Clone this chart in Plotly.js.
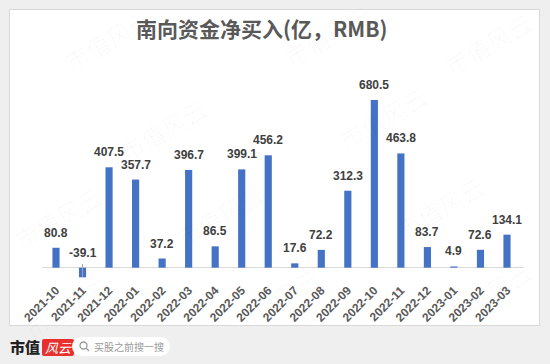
<!DOCTYPE html>
<html><head><meta charset="utf-8">
<script src="https://cdn.plot.ly/plotly-3.0.1.min.js"></script>
<style>
html,body{margin:0;padding:0;}
body{width:550px;height:364px;background:#efefef;position:relative;overflow:hidden;font-family:"Noto Sans CJK SC",sans-serif;}
#panel{position:absolute;left:9px;top:9px;width:531px;height:317px;background:#fff;border:1px solid #d9d9d9;box-sizing:border-box;}
#chart{position:absolute;left:0;top:0;width:550px;height:364px;}
.wm{position:absolute;font-family:"Noto Sans CJK SC",serif;font-weight:300;font-size:24px;color:rgba(0,0,0,0.035);transform:rotate(-30deg);white-space:nowrap;pointer-events:none;}
#logo{position:absolute;left:10px;top:336px;font-family:"Noto Sans CJK SC";font-weight:900;font-size:15px;color:#222;}
#logo span.r{display:inline-block;background:#e8312f;color:#fff;font-style:italic;font-weight:400;font-size:13px;padding:0 3px;margin-left:2px;border-radius:2px;line-height:17px;}
#search{position:absolute;left:72px;top:337px;width:98px;height:19px;background:#fff;border-radius:10px;font-size:10px;color:#999;line-height:19px;padding-left:22px;box-sizing:border-box;}
#search svg{position:absolute;left:7px;top:4px;}
</style></head>
<body>
<div id="panel"></div>
<div id="chart"></div>
<div class="wm" style="left:60px;top:22px;">市值风云</div>
<div class="wm" style="left:280px;top:18px;">市值风云</div>
<div class="wm" style="left:440px;top:26px;">市值风云</div>
<div class="wm" style="left:115px;top:112px;">市值风云</div>
<div class="wm" style="left:335px;top:100px;">市值风云</div>
<div class="wm" style="left:10px;top:200px;">市值风云</div>
<div class="wm" style="left:172px;top:198px;">市值风云</div>
<div class="wm" style="left:392px;top:190px;">市值风云</div>
<div class="wm" style="left:20px;top:290px;">市值风云</div>
<div class="wm" style="left:228px;top:282px;">市值风云</div>
<div class="wm" style="left:440px;top:275px;">市值风云</div>
<div id="logo">市值<span class="r">风云</span></div>
<div id="search"><svg width="11" height="11" viewBox="0 0 11 11"><circle cx="4.5" cy="4.5" r="3.5" stroke="#999" stroke-width="1.3" fill="none"/><line x1="7" y1="7" x2="10" y2="10" stroke="#999" stroke-width="1.3"/></svg>买股之前搜一搜</div>
<script>
const months = ["2021-10","2021-11","2021-12","2022-01","2022-02","2022-03","2022-04","2022-05","2022-06","2022-07","2022-08","2022-09","2022-10","2022-11","2022-12","2023-01","2023-02","2023-03"];
const netBuy = [80.8,-39.1,407.5,357.7,37.2,396.7,86.5,399.1,456.2,17.6,72.2,312.3,680.5,463.8,83.7,4.9,72.6,134.1];
const chartTitle = "南向资金净买入(亿，RMB)";

const annotations = months.map((m,i)=>({
  x:m, y:Math.max(netBuy[i],0), xref:'x', yref:'y',
  text:netBuy[i].toFixed(1), showarrow:false, yanchor:'bottom', yshift:6,
  font:{family:'Liberation Sans, Arial, sans-serif', size:12, color:'#404040', weight:700}
}));

const trace = {type:'bar', x:months, y:netBuy, marker:{color:'#4472C4'}, width:0.27, hoverinfo:'none'};
const layout = {
  width:550, height:364,
  paper_bgcolor:'rgba(0,0,0,0)', plot_bgcolor:'rgba(0,0,0,0)',
  margin:{l:42, r:26, t:60, b:84},
  title:{text:chartTitle, x:0.476, xref:'container', xanchor:'center', y:0.918, yref:'container', yanchor:'middle',
         font:{family:'Noto Sans CJK SC', size:21, color:'#595959', weight:700}},
  xaxis:{type:'category', tickangle:-45, showgrid:false, showline:false, ticks:'',
         tickfont:{family:'Liberation Sans, Arial, sans-serif', size:12, color:'#595959', weight:700}},
  yaxis:{range:[-50,843], showgrid:false, showticklabels:false, ticks:'', zeroline:true, zerolinecolor:'#d9d9d9', zerolinewidth:1},
  shapes:[{type:'line', xref:'x', yref:'y', x0:months[1], x1:months[1], y0:15, y1:-38, line:{color:'#a6a6a6', width:1}}],
  annotations:annotations,
  showlegend:false
};
Plotly.newPlot('chart',[trace],layout,{displayModeBar:false,staticPlot:true});
</script>
</body></html>
